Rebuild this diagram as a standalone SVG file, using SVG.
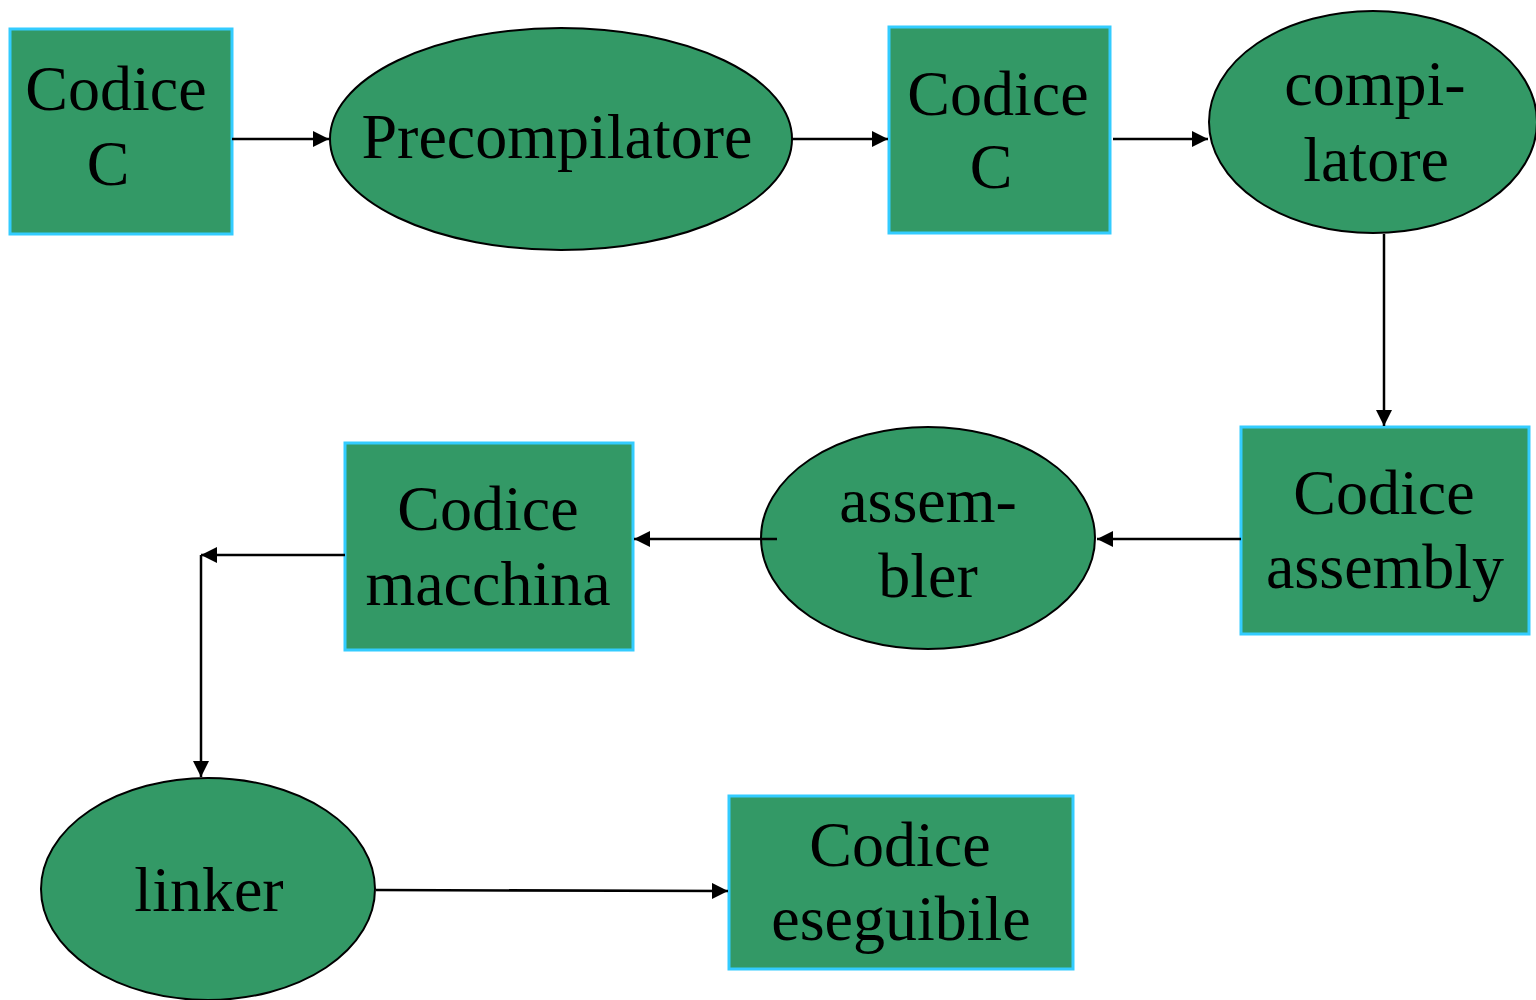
<svg xmlns="http://www.w3.org/2000/svg" width="1536" height="1000" viewBox="0 0 1536 1000">
<defs>
<style>
.box{fill:#339966;stroke:#33CCFF;stroke-width:3}
.ell{fill:#339966;stroke:#000;stroke-width:2}
.t{font-family:"Liberation Serif","Times New Roman",serif;font-size:64px;fill:#000;text-anchor:middle}
.c{stroke:#000;stroke-width:2.5;fill:none;marker-end:url(#ah)}
</style>
<marker id="ah" viewBox="0 0 10 10" refX="10" refY="5" markerWidth="6.5" markerHeight="6.5" markerUnits="strokeWidth" orient="auto">
<path d="M0,0 L10,5 L0,10 Z" fill="#000"/>
</marker>
</defs>
<rect width="1536" height="1000" fill="#fff"/>
<g id="n1"><rect class="box" x="10" y="29" width="222" height="205"/><text class="t" x="116" y="110">Codice</text><text class="t" x="108" y="185">C</text></g>
<g id="n2"><ellipse class="ell" cx="561" cy="139" rx="231" ry="111"/><text class="t" x="557" y="158">Precompilatore</text></g>
<g id="n3"><rect class="box" x="889" y="27" width="221" height="206"/><text class="t" x="998" y="115">Codice</text><text class="t" x="991" y="188">C</text></g>
<g id="n4"><ellipse class="ell" cx="1373" cy="122" rx="164" ry="111"/><text class="t" x="1375" y="105">compi-</text><text class="t" x="1376" y="181">latore</text></g>
<g id="n5"><rect class="box" x="1241" y="427" width="288" height="207"/><text class="t" x="1384" y="514">Codice</text><text class="t" x="1385" y="588">assembly</text></g>
<g id="n6"><ellipse class="ell" cx="928" cy="538" rx="167" ry="111"/><text class="t" x="928" y="522">assem-</text><text class="t" x="928" y="597">bler</text></g>
<g id="n7"><rect class="box" x="345" y="443" width="288" height="207"/><text class="t" x="488" y="530">Codice</text><text class="t" x="488" y="605">macchina</text></g>
<g id="n8"><ellipse class="ell" cx="208" cy="889" rx="167" ry="111"/><text class="t" x="209" y="911">linker</text></g>
<g id="n9"><rect class="box" x="729" y="796" width="344" height="173"/><text class="t" x="900" y="866">Codice</text><text class="t" x="901" y="940">eseguibile</text></g>
<g id="connectors">
<line class="c" x1="232" y1="139" x2="329" y2="139"/>
<line class="c" x1="792" y1="139" x2="888" y2="139"/>
<line class="c" x1="1113" y1="139" x2="1208" y2="139"/>
<line class="c" x1="1384" y1="234" x2="1384" y2="426"/>
<line class="c" x1="1241" y1="539" x2="1097" y2="539"/>
<line class="c" x1="777" y1="539" x2="634" y2="539"/>
<line class="c" x1="345" y1="555" x2="201" y2="555"/>
<line class="c" x1="201" y1="555" x2="201" y2="777"/>
<line class="c" x1="376" y1="890" x2="728" y2="891"/>
</g>
</svg>
